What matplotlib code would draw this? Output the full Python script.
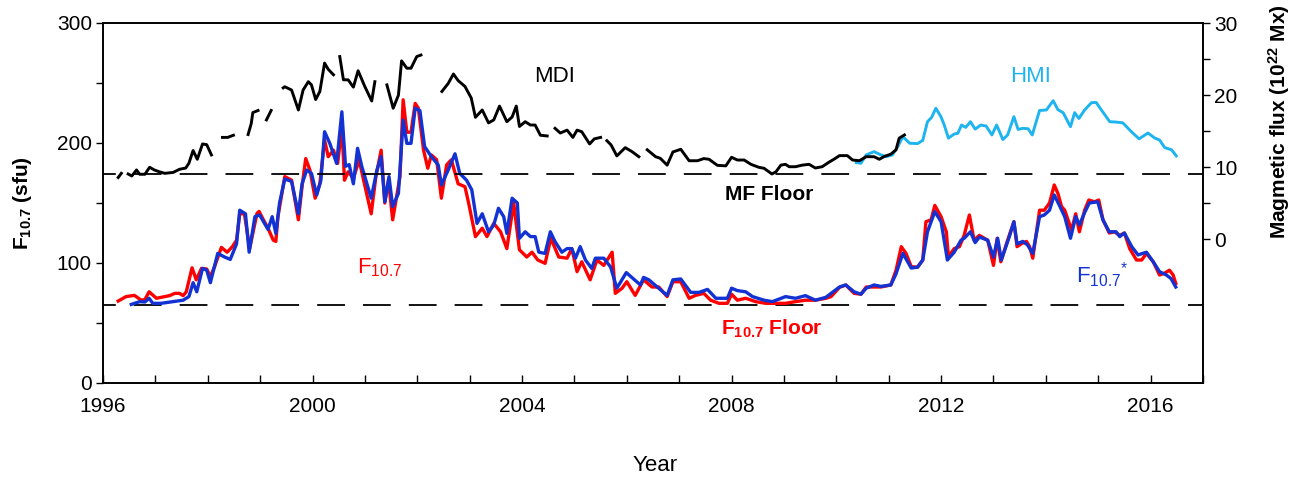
import matplotlib
matplotlib.use('Agg')
import matplotlib.pyplot as plt
import numpy as np
from matplotlib.ticker import MultipleLocator, FixedLocator

plt.rcParams['font.family'] = ['Liberation Sans', 'DejaVu Sans']
plt.rcParams['mathtext.default'] = 'regular'
plt.rcParams['lines.scale_dashes'] = False

nan = np.nan

# F10.7 (sfu), left axis
f107_year = [1996.29, 1996.44, 1996.60, 1996.73, 1996.80, 1996.88, 1997.02, 1997.18, 1997.27, 1997.37,
             1997.46, 1997.53, 1997.59, 1997.70, 1997.78, 1997.88, 1997.98, 1998.05, 1998.13, 1998.26,
             1998.37, 1998.47, 1998.55, 1998.61, 1998.70, 1998.80, 1998.94, 1998.98, 1999.05, 1999.15,
             1999.25, 1999.30, 1999.34, 1999.47, 1999.60, 1999.73, 1999.80, 1999.87, 1999.95, 2000.05,
             2000.14, 2000.23, 2000.30, 2000.40, 2000.48, 2000.56, 2000.61, 2000.68, 2000.78, 2000.89,
             2000.97, 2001.12, 2001.21, 2001.31, 2001.38, 2001.45, 2001.53, 2001.67, 2001.73, 2001.80,
             2001.88, 2001.96, 2002.02, 2002.12, 2002.20, 2002.27, 2002.37, 2002.46, 2002.56, 2002.65,
             2002.78, 2002.91, 2002.98, 2003.11, 2003.24, 2003.33, 2003.46, 2003.59, 2003.71, 2003.84,
             2003.95, 2004.09, 2004.19, 2004.30, 2004.44, 2004.55, 2004.70, 2004.86, 2004.95, 2005.05,
             2005.14, 2005.30, 2005.43, 2005.56, 2005.72, 2005.78, 2005.91, 2006.00, 2006.16, 2006.32,
             2006.48, 2006.61, 2006.77, 2006.88, 2007.03, 2007.19, 2007.31, 2007.47, 2007.60, 2007.76,
             2007.92, 2008.00, 2008.11, 2008.27, 2008.46, 2008.65, 2008.84, 2009.03, 2009.22, 2009.41,
             2009.60, 2009.80, 2009.90, 2010.06, 2010.18, 2010.34, 2010.47, 2010.57, 2010.69, 2010.85,
             2011.04, 2011.14, 2011.24, 2011.33, 2011.43, 2011.55, 2011.65, 2011.71, 2011.81, 2011.88,
             2012.00, 2012.10, 2012.14, 2012.25, 2012.35, 2012.44, 2012.54, 2012.63, 2012.73, 2012.89,
             2013.00, 2013.07, 2013.14, 2013.27, 2013.39, 2013.45, 2013.53, 2013.63, 2013.69, 2013.75,
             2013.88, 2013.97, 2014.07, 2014.16, 2014.23, 2014.30, 2014.36, 2014.49, 2014.57, 2014.64,
             2014.74, 2014.82, 2014.93, 2015.01, 2015.09, 2015.21, 2015.31, 2015.41, 2015.50, 2015.60,
             2015.73, 2015.83, 2015.92, 2016.05, 2016.17, 2016.27, 2016.36, 2016.43, 2016.48]
f107 = [68.3, 72, 73, 69, 69.5, 76, 70.6, 72, 72.8, 74.7,
        74.7, 72.8, 76, 96, 86, 95.5, 95, 88.6, 97, 113,
        109, 113.6, 119, 141, 141, 112, 141.4, 143, 137, 129,
        119, 118, 138.6, 172, 169, 136, 163.6, 187, 177.5, 154,
        166, 202.5, 188.6, 194, 183, 213.6, 169, 176, 170.5, 186,
        170, 141, 172, 194, 150, 169, 136, 172, 236, 209,
        209, 233, 229, 194, 179, 190, 186, 154, 181.7, 186,
        166, 163.6, 150, 122, 129, 122, 133, 126, 112, 150,
        111, 105, 109, 102.5, 99.7, 120.6, 105, 104, 112, 92.8,
        101, 86, 102.5, 98, 109, 74.7, 79, 84.4, 73, 86,
        80, 80, 72, 84.4, 84.4, 70.6, 73, 74.7, 69, 66.4,
        66.4, 74, 69, 70.6, 67.8, 66.4, 66.4, 66.4, 67.8, 69,
        69, 70.6, 72, 79.7, 81.7, 74.7, 74, 80, 80, 80,
        81.7, 94, 113.6, 108, 97, 96.5, 102.5, 134.4, 136, 148,
        138.6, 126, 105, 112, 113.6, 123, 140, 119, 123, 119,
        98, 120.6, 101, 119, 134.4, 113.6, 116, 118, 113.6, 104,
        144, 144, 150, 165, 158, 147, 144, 127.5, 141, 126,
        144, 152.5, 151, 152.5, 136, 125, 126, 123, 125, 112,
        102.5, 102.5, 108, 101, 90, 91.6, 94, 90, 83]

# F10.7* (sfu), left axis
f107s_year = [1996.54, 1996.70, 1996.80, 1996.88, 1996.95, 1997.11, 1997.34, 1997.53, 1997.64, 1997.72,
              1997.79, 1997.90, 1997.98, 1998.05, 1998.19, 1998.32, 1998.43, 1998.55, 1998.61, 1998.72,
              1998.79, 1998.90, 1998.99, 1999.15, 1999.23, 1999.30, 1999.37, 1999.47, 1999.60, 1999.73,
              1999.80, 1999.89, 1999.98, 2000.08, 2000.16, 2000.23, 2000.33, 2000.46, 2000.56, 2000.63,
              2000.70, 2000.78, 2000.86, 2000.94, 2001.12, 2001.23, 2001.31, 2001.38, 2001.46, 2001.53,
              2001.64, 2001.73, 2001.80, 2001.88, 2001.96, 2002.05, 2002.14, 2002.27, 2002.40, 2002.46,
              2002.59, 2002.72, 2002.81, 2002.94, 2003.04, 2003.14, 2003.24, 2003.36, 2003.46, 2003.55,
              2003.65, 2003.71, 2003.81, 2003.91, 2003.95, 2004.06, 2004.16, 2004.25, 2004.32, 2004.44,
              2004.54, 2004.63, 2004.76, 2004.86, 2004.95, 2005.02, 2005.11, 2005.21, 2005.33, 2005.40,
              2005.56, 2005.69, 2005.81, 2005.99, 2006.13, 2006.26, 2006.32, 2006.42, 2006.61, 2006.77,
              2006.88, 2007.03, 2007.22, 2007.38, 2007.54, 2007.70, 2007.92, 2008.00, 2008.11, 2008.27,
              2008.40, 2008.62, 2008.78, 2009.03, 2009.22, 2009.41, 2009.60, 2009.80, 2009.90, 2010.06,
              2010.18, 2010.34, 2010.47, 2010.57, 2010.72, 2010.85, 2011.04, 2011.14, 2011.27, 2011.43,
              2011.55, 2011.65, 2011.74, 2011.88, 2012.00, 2012.12, 2012.25, 2012.38, 2012.44, 2012.56,
              2012.65, 2012.73, 2012.89, 2013.00, 2013.08, 2013.15, 2013.30, 2013.39, 2013.45, 2013.56,
              2013.65, 2013.75, 2013.88, 2013.97, 2014.07, 2014.16, 2014.27, 2014.36, 2014.47, 2014.57,
              2014.64, 2014.74, 2014.83, 2014.99, 2015.09, 2015.21, 2015.34, 2015.41, 2015.50, 2015.64,
              2015.76, 2015.92, 2016.05, 2016.17, 2016.30, 2016.39, 2016.48]
f107s = [65.5, 67.8, 67.5, 70.6, 66.4, 66.4, 67.8, 69, 72, 83.6,
         76, 95.5, 94, 83.6, 108, 105, 103, 116, 144, 141,
         109, 138.6, 140, 128, 138.6, 124.7, 150, 170, 168, 141,
         166, 177.5, 174.7, 156.7, 169, 209.4, 199.7, 183, 226, 180.6,
         182, 166, 195.6, 180.6, 154, 177.5, 188.6, 151, 172, 147,
         158, 219, 199.7, 199.7, 229, 227, 197, 188.6, 181.7, 165,
         177.5, 191, 174.7, 169, 161, 133, 141, 126, 131.7, 145.6,
         138.6, 124.7, 154, 150, 120.6, 126, 122, 122, 109, 108,
         126, 117.8, 109, 112, 112, 104, 113.6, 102.5, 95.5, 104,
         104, 96.7, 79, 92, 86.7, 81.7, 88, 86, 79, 73,
         86, 86.7, 75.5, 75.5, 78, 70.6, 70.6, 79, 77, 76,
         72, 69, 67.8, 72, 70.6, 72.8, 69, 71.4, 74.7, 80,
         81.7, 76, 74, 79, 81.7, 80.5, 81.7, 91, 108, 95.8,
         96.5, 102.5, 126, 142.8, 134.4, 102.5, 109, 119, 120.6, 126,
         117, 121.6, 119, 105, 120.6, 102.5, 121.6, 134.4, 116, 118,
         115, 108, 138.6, 140, 144, 156.7, 147, 138.6, 120.6, 138.6,
         131.7, 142, 150, 151, 136, 126, 126, 122, 125, 113.6,
         106.7, 109, 101, 92.8, 90, 87, 80]

# MDI magnetic flux (1e22 Mx), right axis; nan marks data gaps
mdi_year = [1996.29, 1996.35, nan,
            1996.48, 1996.55, 1996.64, 1996.70, 1996.80, 1996.89, 1996.98, 1997.07, 1997.18, 1997.34,
            1997.46, 1997.58, 1997.64, 1997.72, 1997.80, 1997.90, 1997.98, 1998.07, nan,
            1998.28, 1998.38, 1998.49, nan,
            1998.77, 1998.83, 1998.86, 1998.96, nan,
            1999.12, 1999.21, nan,
            1999.44, 1999.47, 1999.60, 1999.73, 1999.82, 1999.92, 1999.98, 2000.06, 2000.14, 2000.23,
            2000.30, 2000.40, nan,
            2000.52, 2000.59, 2000.68, 2000.78, 2000.87, 2001.00, 2001.13, 2001.19, nan,
            2001.42, 2001.54, 2001.64, 2001.70, 2001.80, 2001.88, 2001.99, 2002.07, nan,
            2002.47, 2002.59, 2002.69, 2002.78, 2002.91, 2003.03, 2003.11, 2003.24, 2003.36, 2003.46,
            2003.57, 2003.71, 2003.81, 2003.89, 2003.95, 2004.06, 2004.16, 2004.25, 2004.35, 2004.48, nan,
            2004.63, 2004.73, 2004.86, 2004.97, 2005.05, 2005.14, 2005.29, 2005.38, 2005.50, nan,
            2005.62, 2005.70, 2005.81, 2005.97, 2006.10, 2006.23, nan,
            2006.39, 2006.55, 2006.64, 2006.77, 2006.88, 2007.03, 2007.19, 2007.35, 2007.47, 2007.57,
            2007.73, 2007.89, 2008.00, 2008.11, 2008.24, 2008.37, 2008.52, 2008.62, 2008.77, 2008.85,
            2008.94, 2009.03, 2009.10, 2009.22, 2009.35, 2009.48, 2009.60, 2009.73, 2009.86, 2009.96,
            2010.06, 2010.21, 2010.31, 2010.44, 2010.57, 2010.72, 2010.82, 2010.92, 2011.04, 2011.14,
            2011.20, 2011.30]
mdi_flux = [8.54, 9.12, nan,
            9.03, 8.75, 9.59, 8.99, 8.99, 9.96, 9.59, 9.35, 9.12, 9.25,
            9.68, 9.86, 10.52, 12.29, 11.07, 13.2, 13.1, 11.68, nan,
            14.11, 14.11, 14.41, nan,
            14.51, 16.03, 17.55, 17.85, nan,
            16.54, 17.85, nan,
            20.99, 21.15, 20.69, 17.92, 20.69, 21.85, 21.4, 19.37, 20.49, 24.43,
            23.57, 22.81, nan,
            25.34, 22.11, 22.11, 21.09, 23.37, 21.15, 19.17, 21.85, nan,
            21.4, 18.16, 19.98, 24.74, 23.72, 23.72, 25.34, 25.55, nan,
            20.49, 21.6, 22.92, 22.0, 21.19, 19.58, 16.9, 17.92, 16.13, 16.54,
            18.46, 16.29, 16.94, 18.46, 15.63, 16.29, 15.83, 15.83, 14.41, 14.31, nan,
            15.37, 14.72, 15.12, 14.11, 15.12, 14.9, 13.2, 13.91, 14.11, nan,
            13.65, 13.06, 11.54, 12.69, 12.13, 11.43, nan,
            12.39, 11.43, 11.2, 10.26, 12.09, 12.46, 10.87, 10.87, 11.17, 11.07,
            10.23, 10.16, 11.35, 10.97, 10.97, 10.37, 9.96, 9.82, 9.03, 9.35,
            10.26, 10.37, 10.04, 10.04, 10.26, 10.37, 9.86, 10.04, 10.67, 11.1,
            11.58, 11.58, 10.97, 10.87, 11.43, 11.43, 11.07, 11.48, 11.78, 12.39,
            14.01, 14.45]

# HMI magnetic flux (1e22 Mx), right axis
hmi_year = [2010.38, 2010.47, 2010.57, 2010.72, 2010.85, 2010.95, 2011.07, 2011.17, 2011.27, 2011.40,
            2011.55, 2011.65, 2011.74, 2011.82, 2011.90, 2012.00, 2012.06, 2012.14, 2012.25, 2012.32,
            2012.39, 2012.47, 2012.56, 2012.65, 2012.76, 2012.86, 2012.97, 2013.06, 2013.18, 2013.27,
            2013.39, 2013.47, 2013.56, 2013.66, 2013.74, 2013.88, 2014.01, 2014.14, 2014.23, 2014.33,
            2014.47, 2014.55, 2014.63, 2014.74, 2014.87, 2014.96, 2015.06, 2015.22, 2015.34, 2015.47,
            2015.63, 2015.78, 2015.95, 2016.08, 2016.17, 2016.27, 2016.40, 2016.49]
hmi_flux = [10.6, 10.52, 11.68, 12.13, 11.68, 11.43, 11.68, 12.79, 14.21, 13.3,
            13.25, 13.7, 16.29, 16.9, 18.16, 16.94, 15.83, 14.01, 14.58, 14.68,
            15.83, 15.5, 16.29, 15.27, 15.83, 15.69, 14.45, 15.83, 13.81, 14.45,
            16.99, 15.22, 15.37, 15.32, 14.45, 17.85, 17.92, 19.21, 17.96, 17.55,
            15.6, 17.55, 16.74, 17.92, 18.93, 18.97, 17.92, 16.29, 16.24, 16.13,
            14.92, 13.91, 14.72, 14.01, 13.75, 12.69, 12.39, 11.54]

f107_floor = 65   # sfu
mf_floor = 9      # 1e22 Mx

red = '#FF0000'
blue = '#1232D4'
cyan = '#1EB4F0'

fig = plt.figure(figsize=(12.99, 4.79), dpi=100)
ax = fig.add_axes([103 / 1299, 1 - 383 / 479, 1100 / 1299, 360 / 479])
ax2 = ax.twinx()

dash = (10.8, (20, 13))
ax.axhline(f107_floor, color='black', lw=1.3, ls=dash, zorder=1)
ax2.axhline(mf_floor, color='black', lw=1.3, ls=dash, zorder=1)

ax.plot(f107_year, f107, color=red, lw=2.4, zorder=3)
ax.plot(f107s_year, f107s, color=blue, lw=2.4, zorder=4)
ax2.plot(hmi_year, hmi_flux, color=cyan, lw=2.1, zorder=3)
ax2.plot(mdi_year, mdi_flux, color='black', lw=2.1, zorder=4)

ax.set_xlim(1996, 2017)
ax.set_ylim(0, 300)
ax2.set_ylim(-20, 30)

ax.xaxis.set_major_locator(FixedLocator(list(range(1996, 2017, 4))))
ax.xaxis.set_minor_locator(MultipleLocator(1))
ax.yaxis.set_major_locator(MultipleLocator(100))
ax.yaxis.set_minor_locator(MultipleLocator(50))
ax2.yaxis.set_major_locator(FixedLocator([0, 10, 20, 30]))
ax2.yaxis.set_minor_locator(FixedLocator([5, 15, 25]))

ax.tick_params(axis='x', which='both', direction='in', length=6, width=1, labelsize=15, pad=10)
ax.tick_params(axis='y', which='both', direction='out', length=5, width=1, labelsize=15, pad=3)
ax2.tick_params(axis='y', which='both', direction='out', length=5, width=1, labelsize=15, pad=3)
for a in (ax, ax2):
    for s in a.spines.values():
        s.set_linewidth(1.2)

ax.set_xlabel('Year', fontsize=16)
ax.xaxis.set_label_coords(0.502, -0.2)
ax.set_ylabel(r'F$_{10.7}$ (sfu)', fontsize=15, fontweight='bold')
ax.yaxis.set_label_coords(-0.063, 0.5)
ax2.set_ylabel(r'Magmetic flux (10$^{22}$ Mx)', fontsize=15, fontweight='bold')
ax2.yaxis.set_label_coords(1.057, 0.725)

ax.text(2004.63, 255, 'MDI', fontsize=16, ha='center', va='center')
ax.text(2013.70, 255, 'HMI', fontsize=16, color=cyan, ha='center', va='center')
ax.text(2008.72, 157, 'MF Floor', fontsize=15, fontweight='bold', ha='center', va='center')
ax.text(2008.77, 40, r'F$_{10.7}$ Floor', fontsize=15, fontweight='bold', color=red,
        ha='center', va='baseline')
ax.text(2000.85, 91.7, r'F$_{10.7}$', fontsize=16, color=red, ha='left', va='baseline')
ax.text(2014.58, 83.3, r'F$_{10.7}{}^{*}$', fontsize=16, color=blue, ha='left', va='baseline')

fig.savefig('out.png', dpi=100)
